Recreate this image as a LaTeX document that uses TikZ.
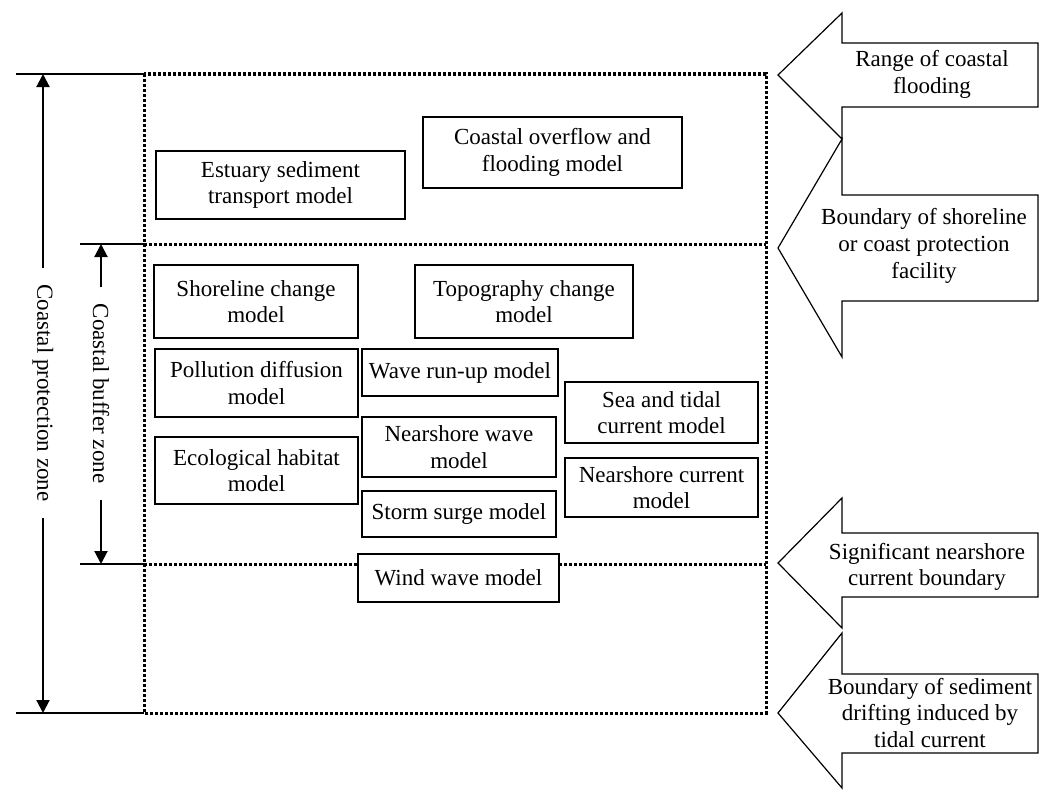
\documentclass[tikz,border=0pt]{standalone}
\usepackage{fontspec}
\setmainfont{Liberation Serif}
\usetikzlibrary{arrows.meta}
\begin{document}
\begin{tikzpicture}[x=1pt,y=-1pt,
  font=\fontsize{23}{26.7}\selectfont,
  model/.style={draw, line width=1.3pt, fill=white, inner sep=0pt, align=center},
  frame/.style={line width=3pt, dash pattern=on 3pt off 2pt},
  tick/.style={line width=1.5pt},
  dim/.style={line width=2pt, -{Triangle[length=13pt,width=13pt]}},
  dimlabel/.style={rotate=-90, inner xsep=16pt, inner ysep=0pt},
  bigarrow/.style={draw, line width=1.2pt, fill=white, line join=miter},
  arrowtext/.style={align=center, inner sep=0pt}]
\useasboundingbox (0,0) rectangle (1049,792);

% dotted frame
\draw[frame] (144,74) rectangle (766,713);
\draw[frame] (144,244) -- (766,244);
\draw[frame] (144,564) -- (766,564);

% tick lines
\coordinate (pT) at (43,74);
\coordinate (pB) at (43,713);
\coordinate (bT) at (101,244);
\coordinate (bB) at (101,564);
\draw[tick] (16,74) -- (144,74);
\draw[tick] (16,713) -- (144,713);
\draw[tick] (80,244) -- (144,244);
\draw[tick] (80,564) -- (144,564);

% dimension labels
\node[dimlabel] (cpz) at (43,393) {Coastal protection zone};
\node[dimlabel] (cbz) at (101,393.5) {Coastal buffer zone};
\draw[dim] (cpz.west) -- (pT);
\draw[dim] (cpz.east) -- (pB);
\draw[dim] (cbz.west) -- (bT);
\draw[dim] (cbz.east) -- (bB);

% model boxes
\node[model, minimum width=249pt, minimum height=68pt] (est) at (280.5,185) {Estuary sediment\\transport model};
\node[model, minimum width=259pt, minimum height=71pt] (cof) at (552.5,152.5) {Coastal overflow and\\flooding model};
\node[model, minimum width=204pt, minimum height=73pt] (shc) at (256,301.5) {Shoreline change\\model};
\node[model, minimum width=218pt, minimum height=73pt] (tpc) at (524,301.5) {Topography change\\model};
\node[model, minimum width=203pt, minimum height=68pt] (pol) at (256.5,383) {Pollution diffusion\\model};
\node[model, minimum width=203pt, minimum height=67pt] (eco) at (256.5,470.5) {Ecological habitat\\model};
\node[model, minimum width=196pt, minimum height=47pt] (wru) at (460,372.5) {Wave run-up model};
\node[model, minimum width=194pt, minimum height=60pt] (nsw) at (459,447) {Nearshore wave\\model};
\node[model, minimum width=194pt, minimum height=46pt] (ssm) at (459,514) {Storm surge model};
\node[model, minimum width=193pt, minimum height=61pt] (stc) at (661.5,412.5) {Sea and tidal\\current model};
\node[model, minimum width=193pt, minimum height=59pt] (ncm) at (661.5,487.5) {Nearshore current\\model};
\node[model, minimum width=201pt, minimum height=48pt] (wwm) at (458.5,578) {Wind wave model};

% block arrows on the right
\draw[bigarrow] (778,75) -- (842,13) -- (842,43) -- (1038,43) -- (1038,107) -- (842,107) -- (842,139) -- cycle;
\draw[bigarrow] (778,248) -- (842,139) -- (842,195) -- (1038,195) -- (1038,301) -- (842,301) -- (842,357) -- cycle;
\draw[bigarrow] (778,563) -- (842,498) -- (842,533) -- (1038,533) -- (1038,597) -- (842,597) -- (842,628) -- cycle;
\draw[bigarrow] (778,713) -- (842,633) -- (842,674) -- (1038,674) -- (1038,753) -- (842,753) -- (842,788) -- cycle;

\node[arrowtext] (a1) at (932,74.5) {Range of coastal\\flooding};
\node[arrowtext] (a2) at (924,246) {Boundary of shoreline\\or coast protection\\facility};
\node[arrowtext] (a3) at (927,567) {Significant nearshore\\current boundary};
\node[arrowtext] (a4) at (930,713) {Boundary of sediment\\drifting induced by\\tidal current};
\end{tikzpicture}
\end{document}
